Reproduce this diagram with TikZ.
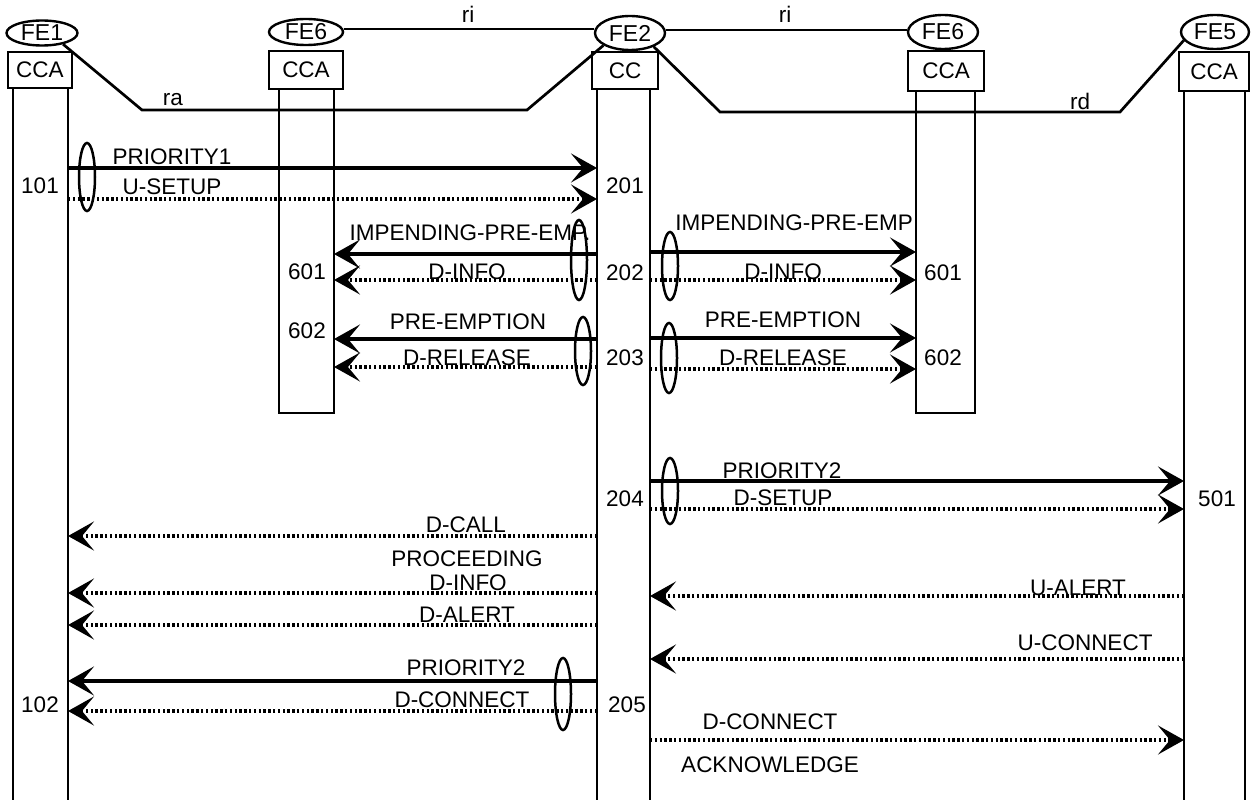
\documentclass[tikz,border=0pt]{standalone}
\usepackage{fontspec}
\setmainfont{Liberation Sans}
\usetikzlibrary{arrows.meta,shapes.geometric}
\begin{document}
\begin{tikzpicture}[x=1pt,y=-1pt,
  lbl/.style={font=\fontsize{22.5}{26}\selectfont, inner sep=0pt},
  fe/.style={draw, ellipse, line width=2.4pt, inner sep=0pt, font=\fontsize{23}{26}\selectfont},
  box/.style={draw, rectangle, line width=2.4pt, inner sep=0pt, font=\fontsize{22.5}{26}\selectfont},
  life/.style={line width=2.5pt},
  link/.style={line width=2.7pt},
  tip/.style={-{Stealth[length=26pt,width=29pt,inset=12pt]}},
  sol/.style={line width=3.2pt, tip},
  dotm/.style={line width=3.2pt, dash pattern=on 2.4pt off 2.4pt, tip},
  grp/.style={draw, ellipse, line width=2.5pt, inner sep=0pt, minimum width=16pt}
]
\useasboundingbox (0,0) rectangle (1252,805);

% entity ellipses and boxes
\node[fe, minimum width=71pt, minimum height=25pt] (fe1) at (42,33) {FE1};
\node[box, minimum width=64pt, minimum height=36pt] (bx1) at (40,70) {CCA};
\node[fe, minimum width=74pt, minimum height=26pt] (fe6a) at (306,32) {FE6};
\node[box, minimum width=74pt, minimum height=38pt] (bx6a) at (306,70) {CCA};
\node[fe, minimum width=70pt, minimum height=34pt] (fe2) at (630,33) {FE2};
\node[box, minimum width=66pt, minimum height=37pt] (bx2) at (625,70.5) {CC};
\node[fe, minimum width=70pt, minimum height=34pt] (fe6b) at (943,32) {FE6};
\node[box, minimum width=76pt, minimum height=40pt] (bx6b) at (946,71) {CCA};
\node[fe, minimum width=68pt, minimum height=34pt] (fe5) at (1215,32) {FE5};
\node[box, minimum width=70pt, minimum height=39pt] (bx5) at (1214,71.5) {CCA};

% lifeline coordinates
\coordinate (L1a) at (13,88);   \coordinate (L1b) at (68,88);
\coordinate (L6a) at (279,89);  \coordinate (L6b) at (334,89);
\coordinate (L2a) at (597,89);  \coordinate (L2b) at (650,89);
\coordinate (L7a) at (916,91);  \coordinate (L7b) at (975,91);
\coordinate (L5a) at (1184,91); \coordinate (L5b) at (1245,91);

\draw[life] (L1a) -- (L1a |- 0,800);
\draw[life] (L1b) -- (L1b |- 0,800);
\draw[life] (L2a) -- (L2a |- 0,800);
\draw[life] (L2b) -- (L2b |- 0,800);
\draw[life] (L5a) -- (L5a |- 0,800);
\draw[life] (L5b) -- (L5b |- 0,800);
\draw[life] (L6a) -- (L6a |- 0,413) -- (L6b |- 0,413) -- (L6b);
\draw[life] (L7a) -- (L7a |- 0,413) -- (L7b |- 0,413) -- (L7b);

% reference point links
\coordinate (ra1) at (142,110); \coordinate (ra2) at (527,110);
\coordinate (rd1) at (720,112); \coordinate (rd2) at (1120,112);
\draw[link] (fe6a.east |- 0,29) -- (fe2.west |- 0,29);
\draw[link] (fe2.east |- 0,30) -- (fe6b.west |- 0,30);
\node[lbl] at (468,14) {ri};
\node[lbl] at (785,14) {ri};
\draw[link] (fe1.-28) -- (ra1) -- (ra2) -- (fe2.-155);
\node[lbl] at (173,100) {ra};
\draw[link] (fe2.-30) -- (rd1) -- (rd2) -- (fe5.195);
\node[lbl] at (1080,101) {rd};

% group ellipses
\node[grp, minimum height=68pt] (g1) at (87,177) {};
\node[grp, minimum height=80pt] (g2) at (579,260) {};
\node[grp, minimum height=68pt] (g3) at (583,351) {};
\node[grp, minimum height=68pt] (g4) at (670,266) {};
\node[grp, minimum height=70pt] (g5) at (669,358) {};
\node[grp, minimum height=66pt] (g6) at (670,491) {};
\node[grp, minimum height=72pt] (g7) at (563,694) {};

% messages FE1 -> FE2
\draw[sol] (L1b |- 0,168) -- (L2a |- 0,168);
\node[lbl] at (172,157) {PRIORITY1};
\draw[dotm] (L1b |- 0,199) -- (L2a |- 0,199);
\node[lbl] at (172,187) {U-SETUP};
\node[lbl] at (40,186) {101};
\node[lbl] at (625,186) {201};

% FE2 -> FE6 (left)
\draw[sol] (L2a |- 0,254) -- (L6b |- 0,254);
\node[lbl] at (470,233) {IMPENDING-PRE-EMP.};
\draw[dotm] (L2a |- 0,280) -- (L6b |- 0,280);
\node[lbl] at (467,272) {D-INFO};
\node[lbl] at (307,272) {601};
\node[lbl] at (625,273) {202};
\draw[sol] (L2a |- 0,339) -- (L6b |- 0,339);
\node[lbl] at (468,322) {PRE-EMPTION};
\draw[dotm] (L2a |- 0,367) -- (L6b |- 0,367);
\node[lbl] at (467,358) {D-RELEASE};
\node[lbl] at (307,331) {602};
\node[lbl] at (625,358) {203};

% FE2 -> FE6 (right)
\draw[sol] (L2b |- 0,252) -- (L7a |- 0,252);
\node[lbl] at (794,223) {IMPENDING-PRE-EMP};
\draw[dotm] (L2b |- 0,280) -- (L7a |- 0,280);
\node[lbl] at (783,272) {D-INFO};
\node[lbl] at (943,273) {601};
\draw[sol] (L2b |- 0,338) -- (L7a |- 0,338);
\node[lbl] at (783,320) {PRE-EMPTION};
\draw[dotm] (L2b |- 0,369) -- (L7a |- 0,369);
\node[lbl] at (783,358) {D-RELEASE};
\node[lbl] at (943,358) {602};

% FE2 -> FE5
\draw[sol] (L2b |- 0,481) -- (L5a |- 0,481);
\node[lbl] at (782,471) {PRIORITY2};
\draw[dotm] (L2b |- 0,509) -- (L5a |- 0,509);
\node[lbl] at (783,498) {D-SETUP};
\node[lbl] at (625,499) {204};
\node[lbl] at (1217,499) {501};

% FE2 -> FE1
\draw[dotm] (L2a |- 0,536) -- (L1b |- 0,536);
\node[lbl] at (466,525) {D-CALL};
\node[lbl] at (467,559) {PROCEEDING};
\draw[dotm] (L2a |- 0,593) -- (L1b |- 0,593);
\node[lbl] at (468,583) {D-INFO};
\draw[dotm] (L2a |- 0,625) -- (L1b |- 0,625);
\node[lbl] at (467,615) {D-ALERT};

% FE5 -> FE2
\draw[dotm] (L5a |- 0,596) -- (L2b |- 0,596);
\node[lbl] at (1078,588) {U-ALERT};
\draw[dotm] (L5a |- 0,659) -- (L2b |- 0,659);
\node[lbl] at (1085,643) {U-CONNECT};

% FE2 -> FE1 connect
\draw[sol] (L2a |- 0,681) -- (L1b |- 0,681);
\node[lbl] at (466,668) {PRIORITY2};
\draw[dotm] (L2a |- 0,711) -- (L1b |- 0,711);
\node[lbl] at (462,700) {D-CONNECT};
\node[lbl] at (40,705) {102};
\node[lbl] at (627,705) {205};

% FE2 -> FE5 connect ack
\draw[dotm] (L2b |- 0,740) -- (L5a |- 0,740);
\node[lbl] at (770,722) {D-CONNECT};
\node[lbl] at (770,765) {ACKNOWLEDGE};
\end{tikzpicture}
\end{document}
